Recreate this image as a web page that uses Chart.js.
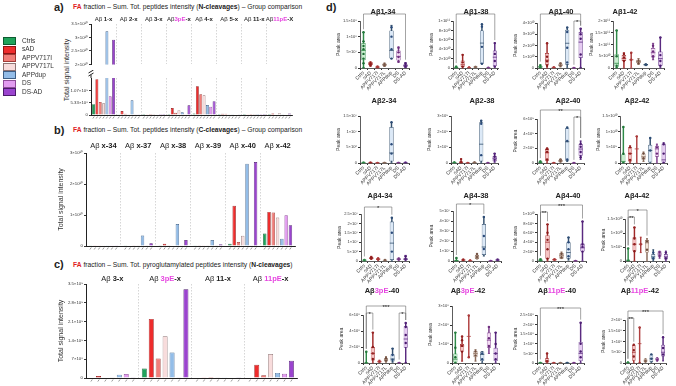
<!DOCTYPE html>
<html>
<head>
<meta charset="utf-8">
<script src="https://cdn.jsdelivr.net/npm/chart.js@4.4.0/dist/chart.umd.min.js"></script>
<style>
  body { margin: 0; width: 676px; height: 386px; position: relative; background: #fff; overflow: hidden;
         font-family: "Liberation Sans", Arial, sans-serif; color: #222; }
  .box { position: absolute; }
  .txt { position: absolute; white-space: nowrap; line-height: 1; }
  .red { color: #e0201c; font-weight: bold; }
  .pe { color: #e645e0; }
  .lg { position: absolute; left: 3px; width: 11px; height: 6px; border: 0.8px solid; }
</style>
</head>
<body>
<div class="txt" style="left:54px;top:2px;font-size:11px;font-weight:bold">a)</div>
<div class="txt" style="left:73px;top:4px;font-size:6.7px"><span class="red">FA</span> fraction – Sum. Tot. peptides intensity (<b>N-cleavages</b>) – Group comparison</div>
<div class="txt" style="left:54px;top:125px;font-size:11px;font-weight:bold">b)</div>
<div class="txt" style="left:73px;top:127px;font-size:6.7px"><span class="red">FA</span> fraction – Sum. Tot. peptides intensity (<b>C-cleavages</b>) – Group comparison</div>
<div class="txt" style="left:54px;top:259px;font-size:11px;font-weight:bold">c)</div>
<div class="txt" style="left:73px;top:262px;font-size:6.7px"><span class="red">FA</span> fraction – Sum. Tot. pyroglutamylated peptides intensity (<b>N-cleavages</b>)</div>
<div class="txt" style="left:326px;top:2px;font-size:11px;font-weight:bold">d)</div>
<div class="txt" style="left:66px;top:70px;font-size:7px;color:#333;transform:translate(-50%,-50%) rotate(-90deg)">Total signal intensity</div>

<script>
// groups shared by every panel
const groups = ['Ctrls', 'sAD', 'APPV717I', 'APPV717L', 'APPdup', 'DS', 'DS-AD'];

// panel a: N-cleavages (one row per group)
const catsA = ['1-x', '2-x', '3-x', '3pE-x', '4-x', '5-x', '11-x', '11pE-X'];
const valsA = [
  [4.7e8, 0.1e8, 0.05e8, 0.4e8, 0.6e8, 0.05e8, 0.05e8, 0.05e8],
  [1.55e9, 1.7e8, 0.1e8, 3.0e8, 1.24e9, 0.5e8, 0.1e8, 0.6e8],
  [5.6e8, 0.5e8, 0.05e8, 1.0e8, 9.0e8, 0.5e8, 0.05e8, 0.2e8],
  [5.1e8, 0.3e8, 0.05e8, 2.1e8, 8.5e8, 0.3e8, 0.05e8, 0.8e8],
  [3.23e10, 6.4e8, 0.1e8, 1.2e8, 4.3e8, 0.3e8, 0.05e8, 0.3e8],
  [8.1e8, 0.3e8, 0.05e8, 0.1e8, 3.6e8, 0.2e8, 0.05e8, 0.2e8],
  [2.92e10, 0.3e8, 0.05e8, 4.2e8, 6.0e8, 0.3e8, 0.05e8, 0.6e8]
];

// panel b: C-cleavages
const catsB = ['x-34', 'x-37', 'x-38', 'x-39', 'x-40', 'x-42'];
const valsB = [
  [0.05e9, 0.05e9, 0.1e9, 0.05e9, 0.75e9, 4.0e9],
  [0.05e9, 0.2e9, 0.75e9, 0.1e9, 1.3e10, 1.1e10],
  [0.05e9, 0.1e9, 0.1e9, 0.05e9, 1.3e9, 1.08e10],
  [0.05e9, 0.1e9, 0.2e9, 0.1e9, 3.3e9, 9.2e9],
  [0.05e9, 3.4e9, 7.1e9, 1.9e9, 2.65e10, 2.3e9],
  [0.05e9, 0.1e9, 0.05e9, 0.1e9, 0.05e9, 9.9e9],
  [0.05e9, 0.9e9, 1.9e9, 0.6e9, 2.71e10, 6.7e9]
];

// panel c: pyroglutamylated N-cleavages
const catsC = ['3-x', '3pE-x', '11-x', '11pE-x'];
const valsC = [
  [0, 0.35e9, 0, 0],
  [0.075e9, 2.2e9, 0.03e9, 0.49e9],
  [0.02e9, 0.725e9, 0.04e9, 0.1e9],
  [0.01e9, 1.55e9, 0.01e9, 0.89e9],
  [0.125e9, 0.95e9, 0.03e9, 0.19e9],
  [0.15e9, 0.01e9, 0.02e9, 0.16e9],
  [0.01e9, 3.3e9, 0.01e9, 0.64e9]
];

// panel d: box plots, values in units of 10^dExp
const dTitles = ['1-34', '1-38', '1-40', '1-42', '2-34', '2-38', '2-40', '2-42',
                 '4-34', '4-38', '4-40', '4-42', '3pE-40', '3pE-42', '11pE-40', '11pE-42'];
const dExp = [8, 10, 10, 11, 7, 9, 9, 10, 7, 7, 9, 10, 8, 8, 8, 8];
const dMax = [1.5, 10, 4, 2, 1.5, 3, 6, 1.5, 2.5, 5, 10, 1.5, 6, 3, 2.5, 2];
const dStep = [0.5, 2, 1, 0.5, 0.5, 1, 2, 0.5, 0.5, 1, 2, 0.5, 2, 1, 0.5, 0.5];
// [min, q1, median, q3, max] per group
const dStats = [
  [[0,0.25,0.56,0.8,1.14],[0.06,0.09,0.13,0.19,0.2],[0,0.01,0.03,0.05,0.06],[0.05,0.07,0.1,0.14,0.16],[0.3,0.3,0.56,1.2,1.36],[0.19,0.24,0.37,0.56,0.67],[0.02,0.04,0.07,0.12,0.17]],
  [[0,0.05,0.1,0.3,0.4],[0,0.2,0.7,1.6,2.8],[0,0.05,0.1,0.15,0.2],[0.05,0.1,0.2,0.3,0.35],[0.9,0.9,5.3,8.0,9.3],[0,0,0.05,0.1,0.1],[0.2,0.4,2.3,3.7,5.3]],
  [[0,0.02,0.1,0.2,0.3],[0,0.3,0.7,1.33,2.2],[0,0.02,0.05,0.08,0.1],[0.1,0.15,0.25,0.4,0.45],[0,0.3,2.2,3.4,3.6],[0,0,0.01,0.02,0.02],[0,0.9,2.3,3.2,3.5]],
  [[0,0.05,0.2,0.59,1.6],[0,0.3,0.4,0.55,0.65],[0,0.35,0.35,0.35,0.65],[0.15,0.2,0.27,0.35,0.4],[0.1,0.11,0.14,0.17,0.18],[0.35,0.45,0.65,0.85,1.05],[0,0.1,0.4,0.7,1.3]],
  [[0,0,0.01,0.02,0.03],[0,0,0.01,0.02,0.03],[0,0,0.005,0.01,0.01],[0,0,0.01,0.02,0.02],[0,0.05,0.32,1.15,1.3],[0,0,0.01,0.02,0.02],[0,0,0.01,0.02,0.03]],
  [[0,0.01,0.03,0.05,0.06],[0,0.02,0.05,0.1,0.25],[0,0,0.01,0.02,0.02],[0,0.01,0.03,0.05,0.06],[0,0.1,1.2,2.6,2.7],[0,0,0.01,0.02,0.02],[0.05,0.1,0.3,0.45,0.6]],
  [[0,0.02,0.1,0.2,0.25],[0,0.3,1.4,1.9,2.0],[0,0,0.02,0.04,0.05],[0.1,0.15,0.3,0.45,0.5],[0.2,0.3,2.9,4.8,4.9],[0,0,0.01,0.02,0.02],[0.5,1.0,1.9,2.6,3.0]],
  [[0,0,0.05,0.28,1.15],[0,0.05,0.3,0.5,0.55],[0,0.45,0.45,0.45,0.85],[0.05,0.1,0.2,0.3,0.35],[0,0,0.4,0.58,0.8],[0,0.2,0.45,0.55,0.6],[0,0,0.1,0.62,0.65]],
  [[0,0.02,0.04,0.06,0.08],[0.08,0.1,0.15,0.2,0.25],[0.02,0.05,0.1,0.15,0.18],[0,0.02,0.04,0.06,0.07],[0,0.05,0.95,2.1,2.3],[0.03,0.05,0.1,0.15,0.17],[0.02,0.05,0.1,0.15,0.3]],
  [[0,0.02,0.05,0.1,0.3],[0.03,0.05,0.1,0.15,0.2],[0,0.02,0.04,0.06,0.08],[0.2,0.2,0.4,0.6,0.7],[0.5,0.6,1.4,3.7,4.4],[0,0,0.02,0.03,0.04],[0.03,0.05,0.1,0.15,0.2]],
  [[0,0.05,0.15,0.3,0.5],[0,0.5,4.0,5.5,7.8],[0.1,0.15,0.25,0.4,0.5],[0.5,0.5,1.2,1.7,1.9],[0.2,0.5,1.8,4.0,5.0],[0,0,0.02,0.04,0.05],[0,2.0,2.8,3.7,8.4]],
  [[0,0,0.02,0.05,0.45],[0,0.35,0.6,0.85,1.2],[0.3,0.6,0.6,0.6,0.85],[0,0.3,0.65,0.75,0.8],[0,0.05,0.15,0.25,0.4],[0.1,0.15,0.25,0.35,0.35],[0,0.05,0.15,0.25,0.35]],
  [[0,0,0.02,0.05,1.4],[0,0.3,1.2,2.0,3.8],[0.05,0.08,0.15,0.3,0.35],[0.1,0.2,0.4,0.6,0.8],[0.1,0.2,0.5,1.1,1.8],[0,0,0.02,0.04,0.05],[0,1.9,3.0,4.6,5.0]],
  [[0,0,0.2,0.5,1.6],[0.1,0.6,0.9,1.0,1.4],[0.3,1.4,1.4,1.4,2.5],[0.1,0.3,0.5,0.65,0.7],[0,0.1,0.45,0.6,0.6],[0.5,0.8,1.2,1.6,1.9],[0,0.1,0.5,0.8,1.6]],
  [[0,0,0.01,0.02,0.03],[0,0.02,0.1,0.25,0.5],[0,0,0.01,0.02,0.02],[0,0,0.01,0.02,0.02],[0,0,0.01,0.02,0.03],[0,0,0.01,0.02,0.02],[0,0.1,0.5,1.1,2.1]],
  [[0,0,0.02,0.05,0.06],[0,0.1,0.5,0.85,0.85],[0,0.9,0.9,0.9,1.65],[0.03,0.05,0.1,0.2,0.2],[0.03,0.05,0.2,0.4,0.4],[0.08,0.1,0.18,0.25,0.25],[0.1,0.3,0.5,0.85,1.2]]
];
// individual samples per group
const dPoints = [
  [[0,0.15,0.3,0.45,0.6,0.7,0.85,1.14],[0.08,0.12,0.15],[0.02,0.04],[0.07,0.12],[0.3,0.6,1.0,1.3],[0.2,0.35,0.5,0.65],[0.03,0.08,0.15]],
  [[0,0.2],[0.3,1.2,2.8],[0.1],[0.2],[0.9,4.5,8.8,9.3],[0.05],[0.3,1.5,3.0,5.3]],
  [[0,0.2],[0.2,0.6,1.0,2.2],[0.05],[0.2,0.4],[0.5,1.8,3.2,3.6],[0],[0,1.2,2.6,3.0,3.5]],
  [[0,0.1,0.5,1.6],[0.3,0.45,0.6],[0.35,0.65],[0.2,0.3],[0.14],[0.5,0.7,0.95],[0.1,0.3,0.55,1.3]],
  [[0],[0],[0],[0],[0.3,0.6,1.3],[0],[0]],
  [[0.03],[0.05,0.25],[0],[0.03],[0.5,2.5,2.7],[0],[0.2,0.4,0.6]],
  [[0,0.2],[0.5,1.5,1.9,2.0],[0],[0.3,0.5],[0.5,3.0,4.8],[0],[0.8,1.5,2.2,2.6]],
  [[0,0.3,1.15],[0.1,0.3,0.5],[0.85],[0.15,0.3],[0.4,0.8],[0.3,0.5],[0,0.3,0.6]],
  [[0.05],[0.15,0.2],[0.1],[0.05],[0.5,1.5,2.3],[0.1],[0.1,0.25]],
  [[0,0.3],[0.1],[0.05],[0.4,0.7],[1.2,2.5,4.4],[0],[0.1]],
  [[0,0.3],[0.5,2.5,4.5,6.0,7.8],[0.3],[0.8,1.5],[1.0,2.5,4.0,5.0],[0],[2.0,3.0,3.5,8.4]],
  [[0,0.45],[0.35,0.6,0.8,1.2],[0.6],[0.4,0.7],[0.1,0.3],[0.2,0.3],[0.1,0.3]],
  [[0,1.4],[0.5,1.2,2.0,3.8],[0.2],[0.3,0.6],[0.4,1.0,1.8],[0],[0,2.5,3.5,4.5,5.0]],
  [[0,0.3,0.8,1.6],[0.6,0.9,1.2,1.4],[0.3,2.5],[0.4,0.6],[0.2,0.5],[0.9,1.3,1.9],[0.2,0.5,1.0,1.6]],
  [[0],[0.1,0.5],[0],[0],[0],[0],[0.3,0.6,1.0,2.1]],
  [[0],[0.3,0.6,0.85],[0,1.65],[0.1],[0.2,0.4],[0.15],[0.4,0.7,1.2]]
];
// significance brackets: [from group, to group, level, stars]
const dSig = [
  [[0,6,0,'*']], [[0,6,0,'*']], [[0,6,0,'**'],[5,6,1,'*']], [],
  [], [], [[0,6,0,'**'],[5,6,1,'*']], [],
  [[0,4,0,'*']], [[0,4,0,'*']], [[0,6,0,'***'],[0,1,1,'**']], [[0,3,0,'*'],[0,1,1,'**']],
  [[0,6,0,'***'],[0,1,1,'*'],[5,6,1,'*']], [], [[0,6,0,'***']], [[0,6,0,'***'],[0,1,1,'**']]
];

// ---- styles / layout ----
const barFill = ['#1fa35b', '#ee2c2c', '#f07e79', '#f8dcdc', '#93bde8', '#e29cf0', '#9b44cf'];
const barLine = ['#0d5c30', '#8c1313', '#a03c38', '#8f7474', '#3f5f85', '#8e4c99', '#4b1b6b'];
const boxFill = ['#c9efcf', '#f6c4c4', '#f6d2d2', '#f3e4d8', '#dce9f7', '#f5dcf5', '#e6ccf2'];
const boxLine = ['#2e8a48', '#a02828', '#b04040', '#8a6b5a', '#34506e', '#7a3a8a', '#5a2a80'];
const boxDot  = ['#1b6e33', '#8b1a1a', '#a02a2a', '#6d4c3d', '#2a4a7a', '#6a2a7a', '#4a1a70'];

const dLeft   = [360, 453, 537, 613, 360, 451, 537, 620, 361, 453, 537, 625, 363, 452, 537, 625];
const dRight  = [410, 499, 585, 665, 410, 499, 585, 668, 410, 502, 587, 670, 410, 500, 585, 667];
const dTop    = [21, 21, 23, 21, 116, 116, 119, 116, 214, 211, 214, 219, 315, 306, 315, 320];
const dBottom = [68, 68, 68, 68, 163, 163, 163, 163, 261, 261, 261, 261, 363, 363, 363, 363];
const dTitleX = [383, 476, 561, 625, 384, 482, 568, 637, 380, 476, 568, 637, 382, 468, 557, 640];
const dTitleY = [12, 12, 12, 12, 101, 101, 101, 101, 196, 196, 196, 196, 291, 291, 291, 291];

Chart.defaults.font.family = '"Liberation Sans", Arial, sans-serif';
Chart.defaults.color = '#333';
Chart.defaults.animation = false;

const SUP = '⁰¹²³⁴⁵⁶⁷⁸⁹';
function sci(v) {
  if (Math.abs(v) < 1e-6) return '0';
  const e = Math.floor(Math.log10(v) + 1e-9);
  const m = +(v / Math.pow(10, e)).toFixed(2);
  return m + '×10' + String(e).split('').map(d => SUP[+d]).join('');
}

function drawHeader(ctx, x, y, cat, size, gap) {
  const m = cat.match(/^(\d+pE)(.*)$/);
  const parts = [{ t: 'Aβ' + (m && !gap ? '' : ' '), b: false, c: '#222' }];
  if (m) {
    parts.push({ t: m[1], b: true, c: '#e645e0' });
    parts.push({ t: m[2], b: true, c: '#222' });
  } else {
    parts.push({ t: cat, b: true, c: '#222' });
  }
  const fam = Chart.defaults.font.family;
  let w = 0;
  parts.forEach(p => { ctx.font = (p.b ? 'bold ' : '') + size + 'px ' + fam; p.w = ctx.measureText(p.t).width; w += p.w; });
  let cx = x - w / 2;
  ctx.textBaseline = 'middle';
  ctx.textAlign = 'left';
  parts.forEach(p => { ctx.font = (p.b ? 'bold ' : '') + size + 'px ' + fam; ctx.fillStyle = p.c; ctx.fillText(p.t, cx, y); cx += p.w; });
}

Chart.register({
  id: 'catHeader',
  afterDraw(chart, args, o) {
    if (!o.cats) return;
    const { ctx } = chart;
    ctx.save();
    o.cats.forEach((c, i) => drawHeader(ctx, chart.scales.x.getPixelForValue(i), chart.chartArea.top - o.dy, c, o.size, o.gap));
    ctx.restore();
  }
});

Chart.register({
  id: 'barTicks',
  afterDatasetsDraw(chart, args, o) {
    if (!o.on) return;
    const { ctx } = chart;
    const b = chart.chartArea.bottom;
    ctx.save();
    ctx.strokeStyle = '#555';
    ctx.lineWidth = 0.6;
    chart.data.datasets.forEach((d, i) => chart.getDatasetMeta(i).data.forEach(el => {
      ctx.beginPath(); ctx.moveTo(el.x + 0.7, b + 1.5); ctx.lineTo(el.x - 0.7, b + 3.5); ctx.stroke();
    }));
    ctx.restore();
  }
});

Chart.register({
  id: 'breakMark',
  afterDraw(chart, args, o) {
    if (!o.on) return;
    const { ctx } = chart;
    const l = chart.chartArea.left, t = chart.chartArea.top;
    ctx.save();
    ctx.strokeStyle = '#222';
    ctx.lineWidth = 1;
    ctx.beginPath(); ctx.moveTo(l, t); ctx.lineTo(l, t - 3); ctx.stroke();
    ctx.beginPath(); ctx.moveTo(l - 2.5, t - 2); ctx.lineTo(l + 2.5, t - 5); ctx.stroke();
    ctx.beginPath(); ctx.moveTo(l - 2.5, t - 5); ctx.lineTo(l + 2.5, t - 8); ctx.stroke();
    ctx.restore();
  }
});

Chart.register({
  id: 'boxExtras',
  afterDatasetsDraw(chart, args, o) {
    if (!o.stats) return;
    const { ctx, chartArea } = chart;
    const ys = chart.scales.y, xs = chart.scales.x;
    const meta = chart.getDatasetMeta(1);
    const seg = (x1, y1, x2, y2) => { ctx.beginPath(); ctx.moveTo(x1, y1); ctx.lineTo(x2, y2); ctx.stroke(); };
    ctx.save();
    ctx.lineWidth = 0.8;
    o.stats.forEach((s, g) => {
      const el = meta.data[g];
      const w = el.width, x = el.x;
      ctx.strokeStyle = boxLine[g];
      const ym = ys.getPixelForValue(s[2]);
      seg(x - w / 2, ym, x + w / 2, ym);
      [s[0], s[4]].forEach(v => { const y = ys.getPixelForValue(v); seg(x - w * 0.25, y, x + w * 0.25, y); });
    });
    ctx.strokeStyle = '#666';
    ctx.lineWidth = 0.6;
    ctx.fillStyle = '#222';
    ctx.font = '6px ' + Chart.defaults.font.family;
    ctx.textAlign = 'center';
    ctx.textBaseline = 'alphabetic';
    const levels = o.sig.length > 1 ? [9, 2] : [7, 2];
    o.sig.forEach(([a, b, lvl, txt]) => {
      const y = chartArea.top - levels[lvl];
      const xa = xs.getPixelForValue(a), xb = xs.getPixelForValue(b);
      const ya = Math.max(y + 2, ys.getPixelForValue(o.stats[a][4]) - 3);
      const yb = Math.max(y + 2, ys.getPixelForValue(o.stats[b][4]) - 3);
      seg(xa, ya, xa, y); seg(xa, y, xb, y); seg(xb, y, xb, yb);
      ctx.fillText(txt, (xa + xb) / 2, y + 2.5);
    });
    ctx.restore();
  }
});

function addCanvas(left, top, width, height) {
  const wrap = document.createElement('div');
  wrap.className = 'box';
  wrap.style.cssText = `left:${left}px;top:${top}px;width:${width}px;height:${height}px`;
  const cv = document.createElement('canvas');
  wrap.appendChild(cv);
  document.body.appendChild(wrap);
  return cv;
}

function barChart(cv, cats, vals, o) {
  return new Chart(cv, {
    type: 'bar',
    data: {
      labels: cats,
      datasets: groups.map((g, i) => ({
        label: g, data: vals[i], backgroundColor: barFill[i], borderColor: barLine[i],
        borderWidth: 0.7, barPercentage: o.bp, categoryPercentage: o.cp
      }))
    },
    options: {
      responsive: true, maintainAspectRatio: false, animation: false,
      layout: { padding: { top: o.padTop, right: 2, left: 0, bottom: 0 } },
      plugins: {
        legend: { display: false }, tooltip: { enabled: false },
        catHeader: o.header || {}, barTicks: { on: !!o.ticks }, breakMark: { on: !!o.brk }
      },
      scales: {
        x: {
          ticks: { display: false },
          grid: { color: c => (c.index > 0 && c.index < cats.length) ? '#c4c4c4' : 'rgba(0,0,0,0)', lineWidth: 0.7, drawTicks: false, offset: true },
          border: { display: o.xBorder, color: '#222', width: 1, dash: [1.5, 1.5] },
          afterFit: s => { s.height = o.xH; }
        },
        y: {
          min: o.min, max: o.max,
          ticks: { stepSize: o.step, font: { size: 4.3 }, color: '#333', padding: 1, callback: v => sci(v) },
          afterBuildTicks: s => { s.ticks = s.ticks.filter(t => t.value <= o.top * 1.0001); },
          grid: { drawOnChartArea: false, tickLength: 2, color: '#333' },
          border: { color: '#222', width: 1 },
          title: { display: !!o.yTitle, text: o.yTitle, font: { size: 7 }, color: '#333', padding: 0 },
          afterFit: s => { s.width = o.yW; }
        }
      }
    }
  });
}

// panel a: broken axis -> upper and lower part
barChart(addCanvas(40, 10, 254, 58), catsA, valsA, {
  bp: 0.88, cp: 0.93, padTop: 14, xH: 0, xBorder: false, yW: 51,
  min: 2e10, max: 3.5e10, step: 5e9, top: 3.5e10,
  header: { cats: catsA, dy: 5, size: 6, gap: false }
});
barChart(addCanvas(40, 70, 254, 51), catsA, valsA, {
  bp: 0.88, cp: 0.93, padTop: 8, xH: 6, xBorder: true, yW: 51,
  min: 0, max: 1.6e9, step: 5e8, top: 1.5e9, ticks: true, brk: true
});
// panel b
barChart(addCanvas(57, 137, 240, 115), catsB, valsB, {
  bp: 0.8, cp: 0.86, padTop: 16, xH: 6, xBorder: true, yW: 29,
  min: 0, max: 3e10, step: 1e10, top: 3e10, ticks: true, yTitle: 'Total signal intensity',
  header: { cats: catsB, dy: 7, size: 7.5, gap: true }
});
// panel c
barChart(addCanvas(57, 270, 242, 114), catsC, valsC, {
  bp: 0.72, cp: 0.92, padTop: 14, xH: 6, xBorder: true, yW: 29,
  min: 0, max: 3.5e9, step: 7e8, top: 3.5e9, ticks: true, yTitle: 'Total signal intensity',
  header: { cats: catsC, dy: 5, size: 7.5, gap: true }
});

// legend
groups.forEach((g, i) => {
  const y = 37 + i * 8.5;
  const sq = document.createElement('div');
  sq.className = 'lg';
  sq.style.top = y + 'px';
  sq.style.background = barFill[i];
  sq.style.borderColor = barLine[i];
  document.body.appendChild(sq);
  const t = document.createElement('div');
  t.className = 'txt';
  t.style.cssText = `left:22px;top:${y + 0.5}px;font-size:6.5px;color:#333`;
  t.textContent = g;
  document.body.appendChild(t);
});

// panel d
function boxChart(i) {
  const padTop = 14, yW = 24, xH = 26;
  const left = dLeft[i] - yW, top = dTop[i] - padTop;
  const cv = addCanvas(left, top, dRight[i] - left + 3, dBottom[i] - top + xH);
  const exp = dExp[i];
  const stats = dStats[i];
  const pts = [], ptCol = [];
  dPoints[i].forEach((list, g) => list.forEach(v => { pts.push({ x: groups[g], y: v }); ptCol.push(boxDot[g]); }));
  new Chart(cv, {
    type: 'bar',
    data: {
      labels: groups,
      datasets: [
        { data: stats.map(s => [s[0], s[4]]), backgroundColor: boxLine, barThickness: 0.8, grouped: false, order: 3 },
        { data: stats.map(s => [s[1], s[3]]), backgroundColor: boxFill, borderColor: boxLine, borderWidth: 0.7,
          borderSkipped: false, barPercentage: 0.62, categoryPercentage: 1, grouped: false, order: 2 },
        { type: 'line', data: pts, showLine: false, pointRadius: 1.2, pointBorderWidth: 0,
          pointBackgroundColor: ptCol, order: 1 }
      ]
    },
    options: {
      responsive: true, maintainAspectRatio: false, animation: false,
      layout: { padding: { top: padTop, right: 3, left: 0, bottom: 0 } },
      plugins: { legend: { display: false }, tooltip: { enabled: false }, boxExtras: { stats, sig: dSig[i] } },
      scales: {
        x: {
          grid: { drawOnChartArea: false, tickLength: 2, color: '#333' },
          border: { color: '#333', width: 0.8 },
          ticks: { font: { size: 5 }, color: '#333', maxRotation: 45, minRotation: 45, padding: 0, autoSkip: false },
          afterFit: s => { s.height = xH; }
        },
        y: {
          min: 0, max: dMax[i],
          ticks: { stepSize: dStep[i], font: { size: 4 }, color: '#333', padding: 1, callback: v => sci(v * Math.pow(10, exp)) },
          grid: { drawOnChartArea: false, tickLength: 2, color: '#333' },
          border: { color: '#333', width: 0.8 },
          title: { display: true, text: 'Peak area', font: { size: 5 }, color: '#333', padding: 0 },
          afterFit: s => { s.width = yW; }
        }
      }
    }
  });
  const t = document.createElement('div');
  t.className = 'txt';
  t.style.cssText = `left:${dTitleX[i]}px;top:${dTitleY[i]}px;font-size:7.5px;font-weight:bold;transform:translate(-50%,-50%)`;
  const m = dTitles[i].match(/^(\d+pE)(.*)$/);
  t.innerHTML = m ? `Aβ<span class="pe">${m[1]}</span>${m[2]}` : 'Aβ' + dTitles[i];
  document.body.appendChild(t);
}
dTitles.forEach((_, i) => boxChart(i));
</script>
</body>
</html>
